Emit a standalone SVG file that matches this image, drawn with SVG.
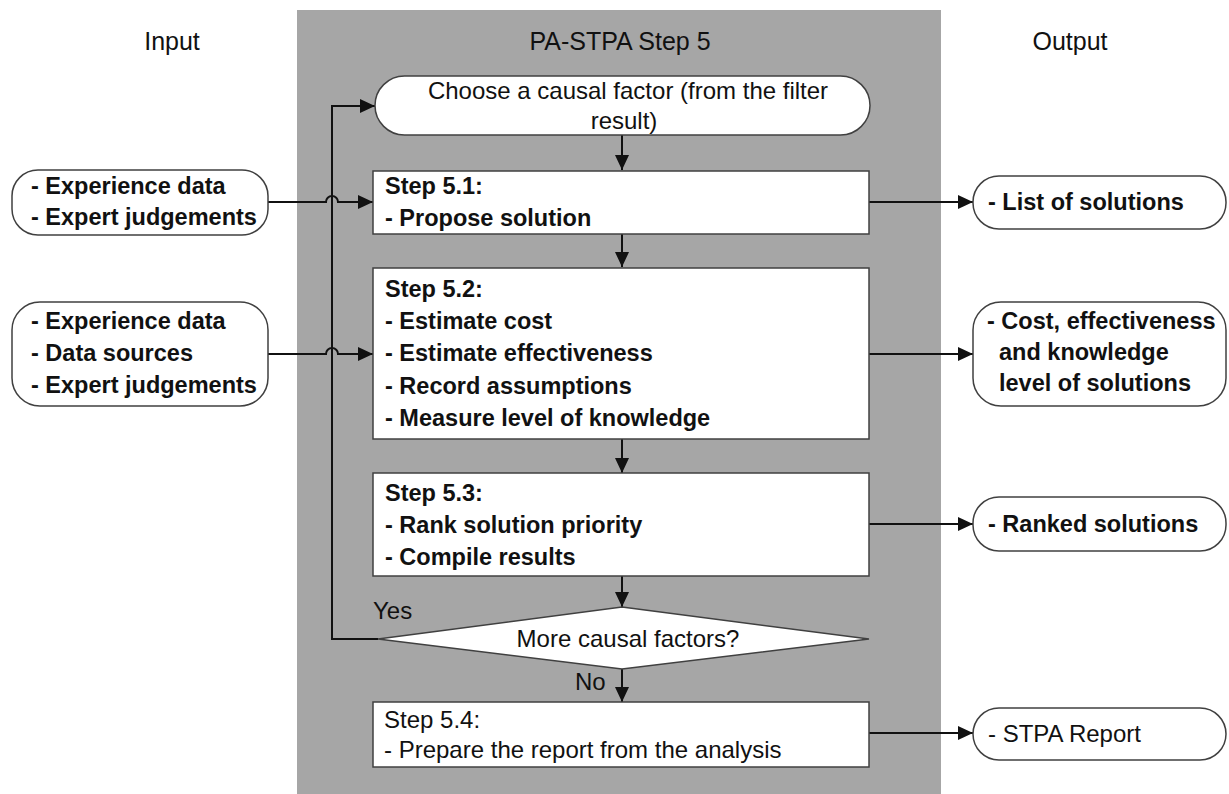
<svg xmlns="http://www.w3.org/2000/svg" width="1229" height="794" viewBox="0 0 1229 794">
  <style>
    .t { font-family: "Liberation Sans", Arial, sans-serif; font-size: 24px; fill: #111; }
    .b { font-weight: bold; font-size: 23.5px; }
    .hd { font-family: "Liberation Sans", Arial, sans-serif; font-size: 25px; fill: #111; }
    .box { fill: #fff; stroke: #404040; stroke-width: 1.5; }
    .ln { fill: none; stroke: #111; stroke-width: 2; }
  </style>
  <defs>
    <marker id="arrow" markerUnits="userSpaceOnUse" markerWidth="16" markerHeight="14" refX="15" refY="7" orient="auto">
      <path d="M0,0 L15,7 L0,14 z" fill="#111"/>
    </marker>
  </defs>

  <rect width="1229" height="794" fill="#fff"/>

  <!-- central process panel -->
  <rect id="panel" x="297" y="10" width="644" height="784" fill="#a6a6a6"/>

  <!-- column headings -->
  <text class="hd" x="172" y="50" text-anchor="middle">Input</text>
  <text class="hd" x="620" y="50" text-anchor="middle">PA-STPA Step 5</text>
  <text class="hd" x="1070" y="50" text-anchor="middle">Output</text>

  <!-- connectors -->
  <g id="connectors">
    <line class="ln" x1="622" y1="135" x2="622" y2="170" marker-end="url(#arrow)"/>
    <line class="ln" x1="622" y1="234" x2="622" y2="267" marker-end="url(#arrow)"/>
    <line class="ln" x1="622" y1="439" x2="622" y2="473" marker-end="url(#arrow)"/>
    <line class="ln" x1="622" y1="576" x2="622" y2="607" marker-end="url(#arrow)"/>
    <line class="ln" x1="622" y1="669" x2="622" y2="702" marker-end="url(#arrow)"/>
    <!-- loop back for further causal factors -->
    <path class="ln" d="M378,639 H332 V106 H375" marker-end="url(#arrow)"/>
    <!-- inputs, hopping over the loop line -->
    <path class="ln" d="M268,202 H326 a6,6 0 0 1 12,0 H373" marker-end="url(#arrow)"/>
    <path class="ln" d="M268,354 H326 a6,6 0 0 1 12,0 H373" marker-end="url(#arrow)"/>
    <!-- outputs -->
    <line class="ln" x1="869" y1="202" x2="973" y2="202" marker-end="url(#arrow)"/>
    <line class="ln" x1="869" y1="354" x2="973" y2="354" marker-end="url(#arrow)"/>
    <line class="ln" x1="869" y1="524" x2="973" y2="524" marker-end="url(#arrow)"/>
    <line class="ln" x1="869" y1="733" x2="973" y2="733" marker-end="url(#arrow)"/>
  </g>

  <g id="choose-factor">
    <rect class="box" x="375" y="76" width="495" height="59" rx="29.5"/>
    <text class="t" x="628" y="99" text-anchor="middle">Choose a causal factor (from the filter</text>
    <text class="t" x="624" y="129" text-anchor="middle">result)</text>
  </g>

  <g id="step-5-1">
    <rect class="box" x="373" y="171" width="496" height="63"/>
    <text class="t b" x="385" y="194">Step 5.1:</text>
    <text class="t b" x="385" y="226">- Propose solution</text>
  </g>

  <g id="step-5-2">
    <rect class="box" x="373" y="268" width="496" height="171"/>
    <text class="t b" x="385" y="297">Step 5.2:</text>
    <text class="t b" x="385" y="329">- Estimate cost</text>
    <text class="t b" x="385" y="361">- Estimate effectiveness</text>
    <text class="t b" x="385" y="394">- Record assumptions</text>
    <text class="t b" x="385" y="426">- Measure level of knowledge</text>
  </g>

  <g id="step-5-3">
    <rect class="box" x="373" y="473" width="496" height="103"/>
    <text class="t b" x="385" y="501">Step 5.3:</text>
    <text class="t b" x="385" y="533">- Rank solution priority</text>
    <text class="t b" x="385" y="565">- Compile results</text>
  </g>

  <g id="decision">
    <polygon class="box" points="622,607 869,639 622,669 378,639"/>
    <text class="t" x="628" y="647" text-anchor="middle">More causal factors?</text>
    <text class="t" x="373" y="619">Yes</text>
    <text class="t" x="575" y="690">No</text>
  </g>

  <g id="step-5-4">
    <rect class="box" x="373" y="702" width="496" height="65"/>
    <text class="t" x="384" y="728">Step 5.4:</text>
    <text class="t" x="384" y="758">- Prepare the report from the analysis</text>
  </g>

  <g id="input-1">
    <rect class="box" x="12" y="170" width="256" height="65" rx="26"/>
    <text class="t b" x="31" y="194">- Experience data</text>
    <text class="t b" x="31" y="225">- Expert judgements</text>
  </g>

  <g id="input-2">
    <rect class="box" x="12" y="302" width="256" height="104" rx="28"/>
    <text class="t b" x="31" y="329">- Experience data</text>
    <text class="t b" x="31" y="361">- Data sources</text>
    <text class="t b" x="31" y="393">- Expert judgements</text>
  </g>

  <g id="output-1">
    <rect class="box" x="973" y="176" width="253" height="53" rx="26"/>
    <text class="t b" x="988" y="210">- List of solutions</text>
  </g>

  <g id="output-2">
    <rect class="box" x="973" y="302" width="253" height="104" rx="28"/>
    <text class="t b" x="987" y="329">- Cost, effectiveness</text>
    <text class="t b" x="999" y="360">and knowledge</text>
    <text class="t b" x="999" y="391">level of solutions</text>
  </g>

  <g id="output-3">
    <rect class="box" x="973" y="497" width="253" height="54" rx="26"/>
    <text class="t b" x="988" y="532">- Ranked solutions</text>
  </g>

  <g id="output-4">
    <rect class="box" x="973" y="708" width="253" height="52" rx="26"/>
    <text class="t" x="988" y="742">- STPA Report</text>
  </g>
</svg>
